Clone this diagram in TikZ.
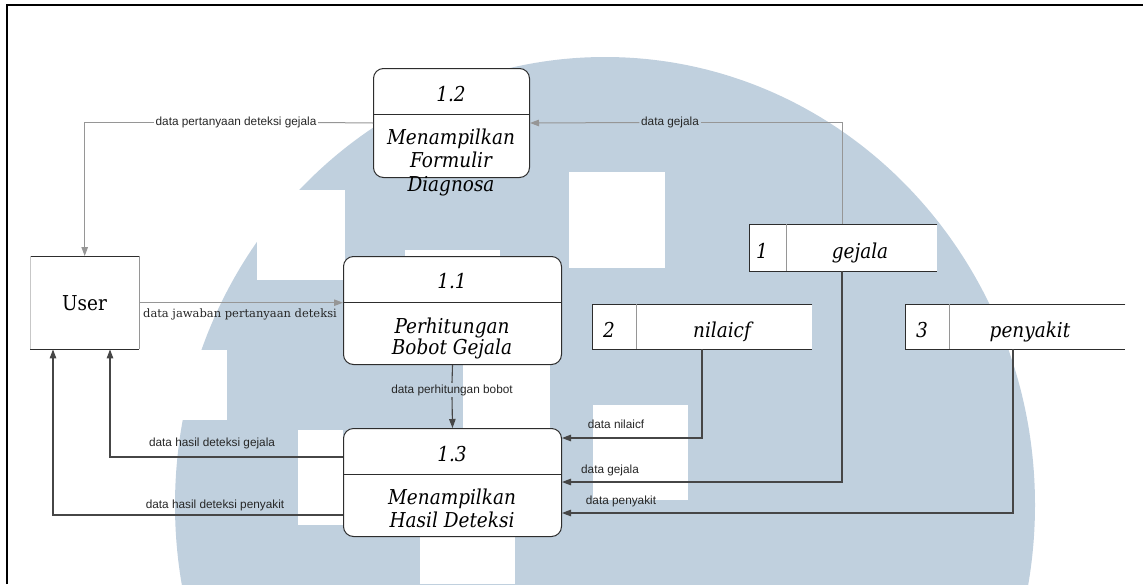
\documentclass[tikz,border=0pt]{standalone}
\usepackage{fontspec}
\setmainfont{DejaVu Serif}
\newfontfamily\procfont[FakeStretch=0.9]{DejaVu Serif}
\newfontfamily\lblfont{Liberation Sans}
\usetikzlibrary{arrows.meta}
\definecolor{wm}{RGB}{192,208,222}
\definecolor{lineDark}{RGB}{70,70,70}
\definecolor{lineLight}{RGB}{150,150,150}
\definecolor{boxline}{RGB}{45,45,45}

\begin{document}
\begin{tikzpicture}[x=1pt,y=-1pt,
  proc/.style={draw=boxline, line width=1pt, rounded corners=10pt, fill=white,
    inner sep=0pt, anchor=north west},
  plain/.style={inner sep=0pt, anchor=north west, fill=white},
  ptext/.style={font=\procfont\fontsize{20.5}{24}\selectfont\itshape, inner sep=0pt, anchor=base},
  utext/.style={font=\procfont\fontsize{20.5}{24}\selectfont, inner sep=0pt, anchor=base},
  lbl/.style={font=\lblfont\fontsize{11.8}{13}\selectfont, text=black!85,
    inner sep=1.5pt, text height=8.5pt, text depth=2.5pt},
  slbl/.style={font=\fontsize{11.5}{13}\selectfont, text=black!85,
    inner sep=1.5pt, text height=8.5pt, text depth=2.5pt},
  dark/.style={draw=lineDark, line width=1.1pt},
  light/.style={draw=lineLight, line width=1pt},
  edgeline/.style={draw=boxline, line width=1pt},
  faint/.style={draw=black!22, line width=1pt},
  tip/.style={-{Triangle[length=9pt,width=6.5pt]}},
]
\useasboundingbox (0,0) rectangle (1143,584);

% background emblem
\begin{scope}
  \clip (0,0) rectangle (1143,584);
  \fill[wm] (605,505) ellipse [x radius=430, y radius=448];
  \fill[white] (257,190) rectangle (345,280);
  \fill[white] (405,250) rectangle (500,300);
  \fill[white] (569,172) rectangle (665,268);
  \fill[white] (593,405) rectangle (688,500);
  \fill[white] (298,430) rectangle (343,525);
  \fill[white] (150,350) rectangle (227,420);
  \fill[white] (463,364) rectangle (550,428);
  \fill[white] (420,536) rectangle (515,584);
\end{scope}

% page frame
\draw[line width=2.2pt] (7,584) -- (7,5) -- (1143,5);

% external entity
\node[plain, minimum width=109pt, minimum height=93pt] (user) at (30,256) {};
\draw[edgeline] (user.north west) -- (user.north east);
\draw[light] (user.north east) -- (user.south east);
\draw[edgeline] (user.south east) -- (user.south west);
\draw[faint] (user.south west) -- (user.north west);
\node[utext] (usert) at (84.5,310) {User};

% processes
\node[proc, minimum width=156pt, minimum height=109pt] (p12) at (373,68) {};
\draw[edgeline] (373,114) -- (529,114);
\node[ptext] (p12n) at (451,101) {1.2};
\node[ptext] (p12a) at (451,144) {Menampilkan};
\node[ptext] (p12b) at (451,167) {Formulir};
\node[ptext] (p12c) at (451,191) {Diagnosa};

\node[proc, minimum width=218pt, minimum height=108pt] (p11) at (343,256) {};
\draw[edgeline] (343,302) -- (561,302);
\node[ptext] (p11n) at (452,288) {1.1};
\node[ptext] (p11a) at (452,333) {Perhitungan};
\node[ptext] (p11b) at (452,354) {Bobot Gejala};

\node[proc, minimum width=218pt, minimum height=108pt] (p13) at (343,428) {};
\draw[edgeline] (343,474) -- (561,474);
\node[ptext] (p13n) at (452,461) {1.3};
\node[ptext] (p13a) at (452,504) {Menampilkan};
\node[ptext] (p13b) at (452,527) {Hasil Deteksi};

% data stores
\node[plain, minimum width=188pt, minimum height=47pt] (s1) at (749,224) {};
\draw[edgeline] (s1.north east) -- (s1.north west) -- (s1.south west) -- (s1.south east);
\draw[light] (786,224) -- (786,271);
\node[ptext] (s1n) at (762,258) {1};
\node[ptext] (s1t) at (860,258) {gejala};

\node[plain, minimum width=220pt, minimum height=45pt] (s2) at (592,304) {};
\draw[edgeline] (s2.north east) -- (s2.north west) -- (s2.south west) -- (s2.south east);
\draw[light] (636,304) -- (636,349);
\node[ptext] (s2n) at (609,337) {2};
\node[ptext] (s2t) at (722,337) {nilaicf};

\node[plain, minimum width=220pt, minimum height=45pt] (s3) at (905,304) {};
\draw[edgeline] (s3.north east) -- (s3.north west) -- (s3.south west) -- (s3.south east);
\draw[light] (949,304) -- (949,349);
\node[ptext] (s3n) at (922,337) {3};
\node[ptext] (s3t) at (1030,337) {penyakit};

% flow labels
\node[lbl] (l1) at (236,122.5) {data pertanyaan deteksi gejala};
\node[lbl] (l2) at (670,122.5) {data gejala};
\node[slbl] (l3) at (240,314) {data jawaban pertanyaan deteksi};
\node[lbl] (l4) at (452,390) {data perhitungan bobot};
\node[lbl] (l5) at (212,443) {data hasil deteksi gejala};
\node[lbl] (l6) at (215,505) {data hasil deteksi penyakit};
\node[lbl] (l7) at (616,425) {data nilaicf};
\node[lbl] (l8) at (610,470) {data gejala};
\node[lbl] (l9) at (621,501) {data penyakit};

% bend points
\coordinate (g1) at (842,0);
\coordinate (h1) at (110,457);
\coordinate (h2) at (53,515);
\coordinate (n1) at (702,438);
\coordinate (n2) at (842,482);
\coordinate (n3) at (1013,513);

% flows
\draw[light] (p12.west) -- (l1.east);
\draw[light, tip] (l1.west) -| (user.north);

\draw[light] (s1.north -| g1) |- (l2.east);
\draw[light, tip] (l2.west) -- (p12.east);

\draw[light, tip] (user.east) -- (user.east -| p11.west);

\draw[dark] (p11.south) -- (l4.north);
\draw[dark, tip] (l4.south) -- (p13.north);

\draw[dark, tip] (h1 -| p13.west) -- (h1) -- (h1 |- user.south);
\draw[dark, tip] (h2 -| p13.west) -- (h2) -- (h2 |- user.south);

\draw[dark, tip] (n1 |- s2.south) -- (n1) -- (n1 -| p13.east);
\draw[dark, tip] (n2 |- s1.south) -- (n2) -- (n2 -| p13.east);
\draw[dark, tip] (n3 |- s3.south) -- (n3) -- (n3 -| p13.east);
\end{tikzpicture}
\end{document}
